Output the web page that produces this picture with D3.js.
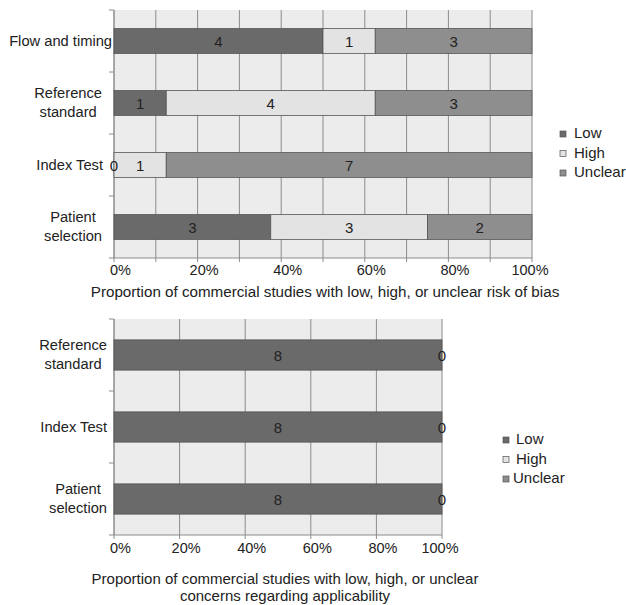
<!DOCTYPE html>
<html><head><meta charset="utf-8">
<script src="https://cdn.jsdelivr.net/npm/d3@7"></script>
<style>body{margin:0;background:#fff}text{font-family:"Liberation Sans",Arial,sans-serif;fill:#222}</style>
</head><body><svg id="c" width="626" height="605"></svg>
<script>
const series = ["Low", "High", "Unclear"];
const colors = ["#6a6a6a", "#e3e3e3", "#8e8e8e"];
const biasCategories = ["Flow and timing", "Reference standard", "Index Test", "Patient selection"];
const biasLow = [4, 1, 0, 3];
const biasHigh = [1, 4, 1, 3];
const biasUnclear = [3, 3, 7, 2];
const applCategories = ["Reference standard", "Index Test", "Patient selection"];
const applLow = [8, 8, 8];
const applHigh = [0, 0, 0];
const applUnclear = [0, 0, 0];
const tickLabels = ["0%", "20%", "40%", "60%", "80%", "100%"];
const biasTitle = ["Proportion of commercial studies with low, high, or unclear risk of bias"];
const applTitle = ["Proportion of commercial studies with low, high, or unclear", "concerns regarding applicability"];
const labelLines = {"Flow and timing": ["Flow and timing"], "Reference standard": ["Reference", "standard"], "Index Test": ["Index Test"], "Patient selection": ["Patient", "selection"]};

const svg = d3.select("#c");

function panel(cfg) {
  const {cats, vals, x0, x1, y0, y1, grid, pad, title, titleY, titleX, titleSize, titleGap, legendX, legendY, legendLabels, legendTextX, singleRight, zeroRight, blockRight, tickY} = cfg;
  const g = svg.append("g");
  const x = d3.scaleLinear().domain([0, 1]).range([x0, x1]);
  const y = d3.scaleBand().domain(cats).range([y0, y1]).paddingInner(pad).paddingOuter(pad / 2);
  const yb = d3.scaleBand().domain(cats).range([y0, y1]);
  g.append("rect").attr("x", x0).attr("y", y0).attr("width", x1 - x0).attr("height", y1 - y0).attr("fill", "#ececec");
  g.selectAll("line.grid").data(d3.range(0, 1.0001, grid)).join("line")
    .attr("x1", d => x(d)).attr("x2", d => x(d)).attr("y1", y0).attr("y2", y1 + 4)
    .attr("stroke", "#8c8c8c").attr("stroke-width", 1);
  g.append("line").attr("x1", x0).attr("x2", x0).attr("y1", y0).attr("y2", y1).attr("stroke", "#8c8c8c");
  const bounds = cats.map(c => yb(c)).concat([y1]);
  g.selectAll("line.yt").data(bounds).join("line")
    .attr("x1", x0 - 5).attr("x2", x0).attr("y1", d => d).attr("y2", d => d).attr("stroke", "#8c8c8c");
  g.append("line").attr("x1", x0).attr("x2", x1).attr("y1", y1).attr("y2", y1).attr("stroke", "#8c8c8c");
  const segs = [];
  cats.forEach((c, i) => {
    const v = vals.map(s => s[i]);
    const tot = d3.sum(v);
    let acc = 0;
    v.forEach((val, k) => {
      segs.push({c, k, val, a: acc / tot, b: (acc + val) / tot});
      acc += val;
    });
  });
  g.selectAll("rect.seg").data(segs.filter(s => s.val > 0)).join("rect")
    .attr("x", s => x(s.a)).attr("y", s => y(s.c)).attr("width", s => x(s.b) - x(s.a)).attr("height", y.bandwidth())
    .attr("fill", s => colors[s.k]).attr("stroke", "#555").attr("stroke-width", 0.8);
  const seen = new Set();
  const labs = segs.filter(s => {
    const key = s.c + "|" + ((s.a + s.b) / 2);
    if (s.val === 0) { if (seen.has(key)) return false; seen.add(key); }
    return true;
  });
  g.selectAll("text.seg").data(labs).join("text")
    .attr("x", s => (x(s.a) + x(s.b)) / 2).attr("y", s => y(s.c) + y.bandwidth() / 2 + 5.5)
    .attr("text-anchor", "middle").attr("font-size", 15).text(s => s.val);
  cats.forEach((c, i) => {
    const lines = labelLines[c];
    const cy = yb(c) + yb.bandwidth() / 2;
    const t = g.append("text").attr("font-size", 14.7);
    if (lines.length === 1) {
      const right = vals[0][i] === 0 ? zeroRight : singleRight;
      t.attr("text-anchor", "end").attr("x", right).attr("y", cy + 5).text(lines[0]);
    } else {
      t.attr("text-anchor", "middle");
      const spans = lines.map((l, j) => t.append("tspan").attr("y", cy - 5 + j * 19).text(l));
      const w = d3.max(spans, s => s.node().getComputedTextLength());
      spans.forEach(s => s.attr("x", blockRight - w / 2));
    }
  });
  g.selectAll("text.xt").data(tickLabels).join("text")
    .attr("x", (d, i) => Math.min(x(i / 5) + 6.5, x1 - 2)).attr("y", tickY).attr("text-anchor", "middle").attr("font-size", 14.5).text(d => d);
  title.forEach((l, j) => g.append("text").attr("x", titleX).attr("y", titleY + j * titleGap).attr("text-anchor", "middle").attr("font-size", titleSize).text(l));
  series.forEach((s, k) => {
    const ly = legendY + k * 19.5;
    g.append("rect").attr("x", legendX).attr("y", ly - 7).attr("width", 6).attr("height", 6)
      .attr("fill", colors[k]).attr("stroke", "#555").attr("stroke-width", 0.7);
    g.append("text").attr("x", legendTextX[k]).attr("y", ly).attr("font-size", 15).text(legendLabels[k]);
  });
}

panel({cats: biasCategories, vals: [biasLow, biasHigh, biasUnclear], x0: 114, x1: 532, y0: 10, y1: 258, grid: 0.1, pad: 0.6,
  title: biasTitle, titleY: 297, titleX: 325, titleSize: 15.2, titleGap: 18, legendX: 560, legendY: 138, legendLabels: series, legendTextX: [574, 574, 574],
  singleRight: 112, zeroRight: 103, blockRight: 102, tickY: 275});
panel({cats: applCategories, vals: [applLow, applHigh, applUnclear], x0: 114, x1: 442, y0: 319, y1: 535, grid: 0.2, pad: 0.58,
  title: applTitle, titleY: 584, titleX: 285, titleSize: 15, titleGap: 16.5, legendX: 503, legendY: 444, legendLabels: ["Low", " High", "Unclear"], legendTextX: [516, 516, 513],
  singleRight: 107, zeroRight: 107, blockRight: 107, tickY: 553});
</script></body></html>
